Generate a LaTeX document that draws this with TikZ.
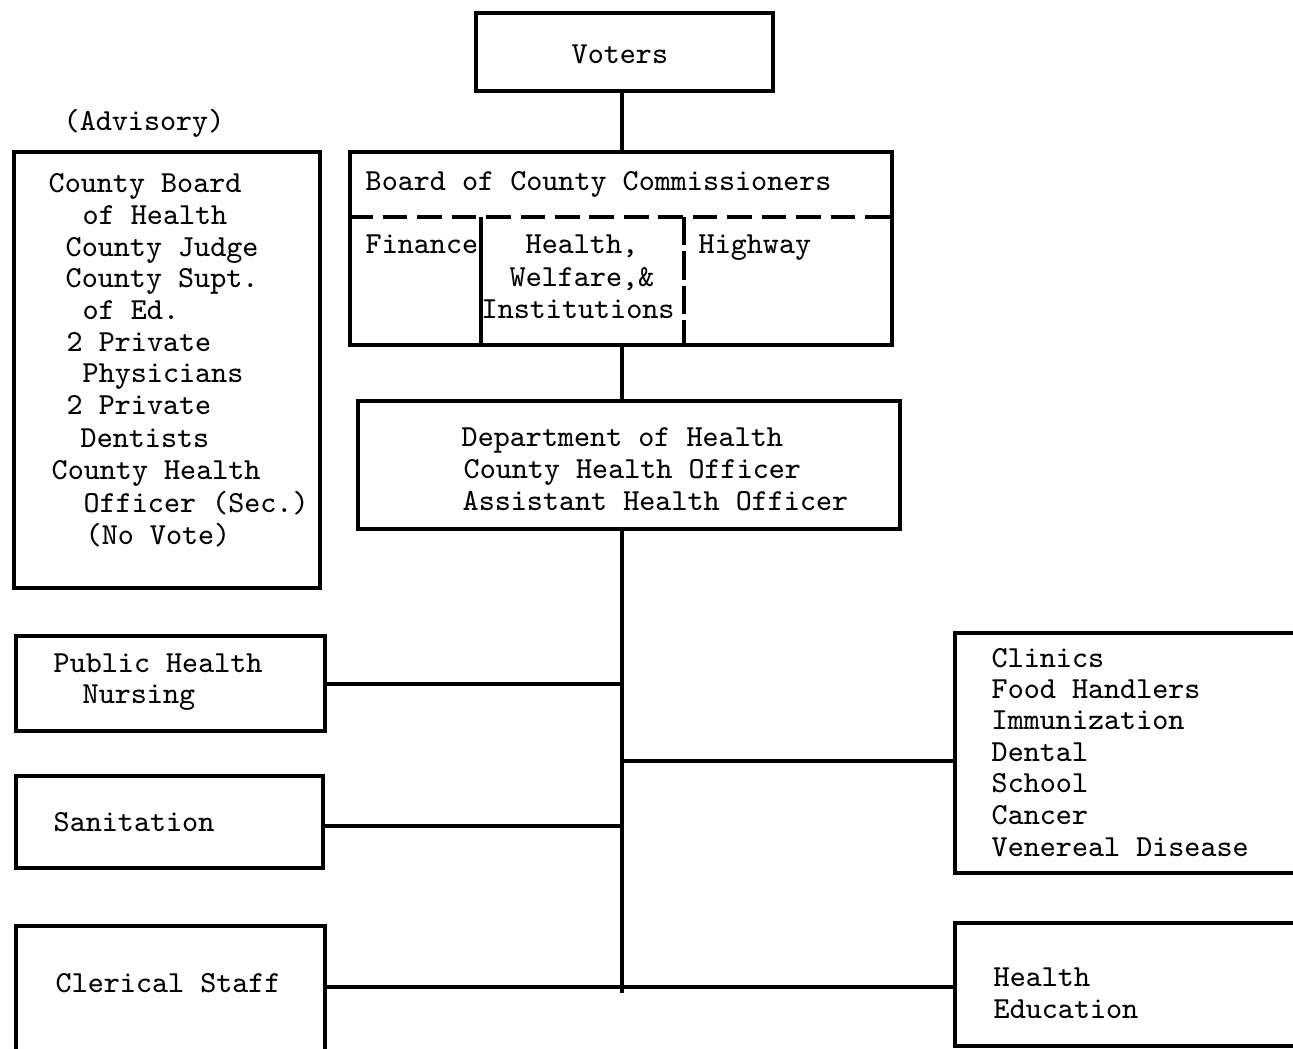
\documentclass[tikz,border=0pt]{standalone}
\usetikzlibrary{fit}
\newcommand{\tw}{\ttfamily\fontsize{8.7}{9.1}\selectfont}
\begin{document}
\begin{tikzpicture}[x=0.01cm, y=-0.01cm,
  box/.style={draw, line width=1pt, inner sep=0pt},
  lbl/.style={anchor=base west, inner sep=0pt, font=\tw},
  link/.style={line width=1pt},
  hdash/.style={line width=1pt, dash pattern=on 7pt off 2.8pt},
  vdash/.style={line width=1pt, dash pattern=on 8pt off 1.8pt}]
\useasboundingbox (0,0) rectangle (1293,1049);
\clip (0,0) rectangle (1293,1049);

% boxes
\node[box, fit={(476,13) (773,91)}] (voters) {};
\node[box, fit={(350,152) (892,345)}] (board) {};
\node[box, fit={(358,401) (900,529)}] (dept) {};
\node[box, fit={(14,152) (320,588)}] (advisory) {};
\node[box, fit={(16,636) (325,731)}] (nursing) {};
\node[box, fit={(16,776) (323,868)}] (sanit) {};
\node[box, fit={(16,926) (325,1070)}] (clerical) {};
\node[box, fit={(955,633) (1330,873)}] (programs) {};
\node[box, fit={(955,923) (1330,1046)}] (healthed) {};

% committee divisions inside the board
\coordinate (dl) at (0,217);
\coordinate (splitA) at (481,217);
\coordinate (splitB) at (684,217);
\draw[hdash] (board.west |- dl) -- (board.east |- dl);
\draw[link] (splitA) -- (splitA |- board.south);
\draw[vdash] (splitB) -- (splitB |- board.south);

% trunk and branches
\coordinate (tk) at (622,0);
\coordinate (tkend) at (622,993);
\coordinate (yN) at (0,684);
\coordinate (yP) at (0,761);
\coordinate (yS) at (0,826);
\coordinate (yC) at (0,987);
\draw[link] (voters.south -| tk) -- (board.north -| tk);
\draw[link] (board.south -| tk) -- (dept.north -| tk);
\draw[link] (dept.south -| tk) -- (tkend);
\draw[link] (nursing.east |- yN) -- (tk |- yN);
\draw[link] (tk |- yP) -- (programs.west |- yP);
\draw[link] (sanit.east |- yS) -- (tk |- yS);
\draw[link] (clerical.east |- yC) -- (healthed.west |- yC);

% texts
\node[lbl] (tvoters) at (571,64) {Voters};
\node[lbl] (tadv) at (63,131) {(Advisory)};

\node[lbl] (tboard) at (365,191) {Board of County Commissioners};
\node[lbl] (tfin) at (365,254) {Finance};
\node[lbl] (thw1) at (525,254) {Health,};
\node[lbl] (thw2) at (509,287) {Welfare,\&};
\node[lbl] (thw3) at (481,319) {Institutions};
\node[lbl] (thwy) at (698,254) {Highway};

\node[lbl] (td1) at (461,447) {Department of Health};
\node[lbl] (td2) at (463,479) {County Health Officer};
\node[lbl] (td3) at (462,511) {Assistant Health Officer};

\node[lbl] (ta1) at (48,193) {County Board};
\node[lbl] (ta2) at (82,225) {of Health};
\node[lbl] (ta3) at (65,257) {County Judge};
\node[lbl] (ta4) at (65,288) {County Supt.};
\node[lbl] (ta5) at (82,320) {of Ed.};
\node[lbl] (ta6) at (66,352) {2 Private};
\node[lbl] (ta7) at (82,383) {Physicians};
\node[lbl] (ta8) at (66,415) {2 Private};
\node[lbl] (ta9) at (80,448) {Dentists};
\node[lbl] (ta10) at (51,480) {County Health};
\node[lbl] (ta11) at (83,513) {Officer (Sec.)};
\node[lbl] (ta12) at (85,545) {(No Vote)};

\node[lbl] (tn1) at (53,673) {Public Health};
\node[lbl] (tn2) at (82,704) {Nursing};
\node[lbl] (ts) at (53,832) {Sanitation};
\node[lbl] (tc) at (55,993) {Clerical Staff};

\node[lbl] (tp1) at (991,668) {Clinics};
\node[lbl] (tp2) at (991,699) {Food Handlers};
\node[lbl] (tp3) at (991,730) {Immunization};
\node[lbl] (tp4) at (991,762) {Dental};
\node[lbl] (tp5) at (991,793) {School};
\node[lbl] (tp6) at (991,825) {Cancer};
\node[lbl] (tp7) at (991,857) {Venereal Disease};

\node[lbl] (th1) at (993,987) {Health};
\node[lbl] (th2) at (993,1019) {Education};
\end{tikzpicture}
\end{document}
